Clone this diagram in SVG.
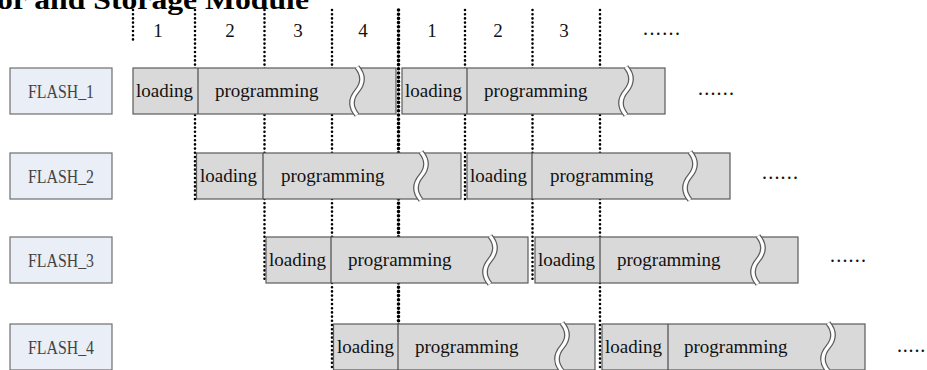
<svg xmlns="http://www.w3.org/2000/svg" xmlns:xlink="http://www.w3.org/1999/xlink" width="927" height="370" viewBox="0 0 927 370">
  <style>
    .title { font-family: "Liberation Serif", "Times New Roman", serif; font-weight: bold; font-size: 27px; fill: #000; }
    .num { font-family: "Liberation Serif", "Times New Roman", serif; font-size: 19px; fill: #111; text-anchor: middle; }
    .lbl { font-family: "Liberation Serif", "Times New Roman", serif; font-size: 19px; fill: #111; }
    .flash { font-family: "Liberation Serif", "Times New Roman", serif; font-size: 18px; fill: #444; text-anchor: middle; }
    .more { font-family: "Liberation Serif", "Times New Roman", serif; font-size: 20px; fill: #111; }
    .dev { fill: #e9eef7; stroke: #6f6f6f; stroke-width: 1.2; }
    .seg { fill: #d9d9d9; stroke: #5a5a5a; stroke-width: 1.2; }
    .div { stroke: #4a4a4a; stroke-width: 1.2; fill: none; }
    .brkO { fill: none; stroke: #5a5a5a; stroke-width: 5.6; }
    .brkI { fill: none; stroke: #ffffff; stroke-width: 3.2; }
    .tick { fill: none; stroke: #000; stroke-width: 2.6; stroke-linecap: round; stroke-dasharray: 0 4.2; }
    .tickB { fill: none; stroke: #000; stroke-width: 3.6; stroke-linecap: round; stroke-dasharray: 0 4.2; }
  </style>
  <defs>
    <!-- S-shaped break mark cut through a bar, 46px tall -->
    <path id="wave" d="M0,-1 Q10,11 0,23 T0,47"/>
  </defs>

  <text class="title" x="-3" y="8.5" textLength="312" lengthAdjust="spacingAndGlyphs">or and Storage Module</text>

  <!-- time slot numbers -->
  <g id="slots">
    <text class="num" x="158" y="37">1</text>
    <text class="num" x="230" y="37">2</text>
    <text class="num" x="298" y="37">3</text>
    <text class="num" x="363" y="37">4</text>
    <text class="num" x="432" y="37">1</text>
    <text class="num" x="498" y="37">2</text>
    <text class="num" x="564" y="37">3</text>
    <text class="more" x="643" y="35" textLength="37" lengthAdjust="spacing">......</text>
  </g>

  <!-- dotted slot boundaries -->
  <g id="connectors">
    <line class="tick" x1="133" y1="10" x2="133" y2="43"/>
    <line class="tick" x1="195" y1="10" x2="195" y2="199"/>
    <line class="tick" x1="264.5" y1="10" x2="264.5" y2="282"/>
    <line class="tick" x1="332" y1="10" x2="332" y2="370"/>
    <line class="tickB" x1="398.5" y1="10" x2="398.5" y2="370"/>
    <line class="tick" x1="465" y1="10" x2="465" y2="199"/>
    <line class="tick" x1="532.5" y1="10" x2="532.5" y2="282"/>
    <line class="tick" x1="600" y1="10" x2="600" y2="370"/>
  </g>

  <!-- FLASH_1 -->
  <g id="flash1">
    <rect class="dev" x="10" y="68" width="102" height="46"/>
    <text class="flash" x="61" y="98" textLength="66" lengthAdjust="spacingAndGlyphs">FLASH_1</text>
    <rect class="seg" x="133" y="68" width="263" height="46"/>
    <line class="div" x1="198" y1="68" x2="198" y2="114"/>
    <text class="lbl" x="136" y="97">loading</text>
    <text class="lbl" x="215" y="97">programming</text>
    <use xlink:href="#wave" class="brkO" x="357" y="68"/>
    <use xlink:href="#wave" class="brkI" x="357" y="68"/>
    <rect class="seg" x="402" y="68" width="263" height="46"/>
    <line class="div" x1="467" y1="68" x2="467" y2="114"/>
    <text class="lbl" x="405" y="97">loading</text>
    <text class="lbl" x="484" y="97">programming</text>
    <use xlink:href="#wave" class="brkO" x="626" y="68"/>
    <use xlink:href="#wave" class="brkI" x="626" y="68"/>
    <text class="more" x="698" y="95" textLength="36" lengthAdjust="spacing">......</text>
  </g>

  <!-- FLASH_2 -->
  <g id="flash2">
    <rect class="dev" x="10" y="153" width="102" height="46"/>
    <text class="flash" x="61" y="183" textLength="66" lengthAdjust="spacingAndGlyphs">FLASH_2</text>
    <rect class="seg" x="196.5" y="153" width="264.5" height="46"/>
    <line class="div" x1="263" y1="153" x2="263" y2="199"/>
    <text class="lbl" x="200" y="182">loading</text>
    <text class="lbl" x="281" y="182">programming</text>
    <use xlink:href="#wave" class="brkO" x="421" y="153"/>
    <use xlink:href="#wave" class="brkI" x="421" y="153"/>
    <rect class="seg" x="467" y="153" width="263" height="46"/>
    <line class="div" x1="532" y1="153" x2="532" y2="199"/>
    <text class="lbl" x="470" y="182">loading</text>
    <text class="lbl" x="550" y="182">programming</text>
    <use xlink:href="#wave" class="brkO" x="690" y="153"/>
    <use xlink:href="#wave" class="brkI" x="690" y="153"/>
    <text class="more" x="762" y="179" textLength="36" lengthAdjust="spacing">......</text>
  </g>

  <!-- FLASH_3 -->
  <g id="flash3">
    <rect class="dev" x="10" y="237" width="102" height="46"/>
    <text class="flash" x="61" y="267" textLength="66" lengthAdjust="spacingAndGlyphs">FLASH_3</text>
    <rect class="seg" x="266" y="237" width="262" height="46"/>
    <line class="div" x1="331" y1="237" x2="331" y2="283"/>
    <text class="lbl" x="269" y="266">loading</text>
    <text class="lbl" x="348" y="266">programming</text>
    <use xlink:href="#wave" class="brkO" x="490" y="237"/>
    <use xlink:href="#wave" class="brkI" x="490" y="237"/>
    <rect class="seg" x="535" y="237" width="263" height="46"/>
    <line class="div" x1="600" y1="237" x2="600" y2="283"/>
    <text class="lbl" x="538" y="266">loading</text>
    <text class="lbl" x="617" y="266">programming</text>
    <use xlink:href="#wave" class="brkO" x="758" y="237"/>
    <use xlink:href="#wave" class="brkI" x="758" y="237"/>
    <text class="more" x="830" y="262" textLength="36" lengthAdjust="spacing">......</text>
  </g>

  <!-- FLASH_4 -->
  <g id="flash4">
    <rect class="dev" x="10" y="324" width="102" height="46"/>
    <text class="flash" x="61" y="354" textLength="66" lengthAdjust="spacingAndGlyphs">FLASH_4</text>
    <rect class="seg" x="333.5" y="324" width="261.5" height="46"/>
    <line class="div" x1="398" y1="324" x2="398" y2="370"/>
    <text class="lbl" x="337" y="353">loading</text>
    <text class="lbl" x="415" y="353">programming</text>
    <use xlink:href="#wave" class="brkO" x="562" y="324"/>
    <use xlink:href="#wave" class="brkI" x="562" y="324"/>
    <rect class="seg" x="602" y="324" width="263" height="46"/>
    <line class="div" x1="668" y1="324" x2="668" y2="370"/>
    <text class="lbl" x="605" y="353">loading</text>
    <text class="lbl" x="684" y="353">programming</text>
    <use xlink:href="#wave" class="brkO" x="828" y="324"/>
    <use xlink:href="#wave" class="brkI" x="828" y="324"/>
    <text class="more" x="897" y="352" textLength="34" lengthAdjust="spacing">......</text>
  </g>
</svg>
